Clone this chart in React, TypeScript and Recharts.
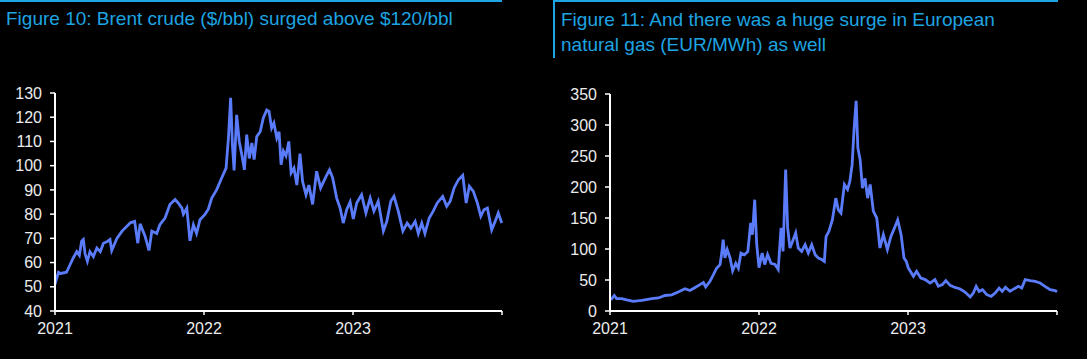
import { LineChart, Line, XAxis, YAxis } from 'recharts';

// x positions are weeks since the start of 2021 (52 per year on the axis)
const yearTicks = [0, 52, 104, 156];
const yearLabels = ['2021', '2022', '2023', ''];

const brentWeeks = [
  0, 1.2, 2, 4, 5.2, 6.4, 7.6, 8.5, 9.3, 9.9, 10.5, 11.3, 12.2, 13.4, 14.6, 15.8, 16.9, 18.4, 19.2, 19.8,
  21.6, 23.4, 25.1, 26.3, 27.8, 28.9, 29.7, 31.4, 32.8, 33.8, 35.5, 36.6, 38.4, 40.1, 41.9, 43, 44.3, 44.8,
  46, 47.1, 48.3, 49.4, 50.6, 52.4, 53.5, 54.7, 56.4, 58.2, 59.7, 60.5, 61.3, 61.9, 62.5, 63.4, 64.3, 65.2,
  66.1, 66.9, 67.8, 68.7, 69.5, 70.4, 71.6, 72.7, 73.9, 74.7, 75.6, 76.4, 77.4, 78.2, 78.9, 79.7, 80.6,
  81.6, 82.4, 83.4, 84.4, 85.5, 86.4, 87.6, 88.6, 89.9, 91.3, 92.7, 94.6, 95.8, 96.9, 98.3, 99.5, 100.6,
  101.8, 103, 104.1, 105.3, 107, 108.5, 110, 111.3, 112.8, 114.6, 115.8, 117.2, 118.3, 119.8, 121.4, 122.9,
  124.2, 125.7, 126.8, 128, 129.1, 130.6, 132, 133.4, 135.3, 136.7, 137.9, 139.3, 140.8, 142.3, 143.5,
  144.6, 146, 147.4, 148.6, 149.7, 150.9, 152.4, 153.6, 154.7, 155.9,
];
const brentValues = [
  51, 56, 55.5, 56, 59, 62, 64.5, 63, 68.8, 69.5, 63.5, 60.5, 64.5, 62.5, 66, 64.5, 68, 68.8, 69.5, 65,
  70, 73, 75, 76.4, 77, 68, 76, 71, 65, 73, 72, 75.6, 78.4, 84, 86, 84.6, 82.5, 80,
  82.5, 69, 75.6, 72, 77.7, 80, 82, 86.6, 90, 95, 99, 111, 128, 109, 98, 121, 110, 104.5,
  98.3, 112.8, 103, 109.4, 102.5, 112, 114, 119.7, 123, 122.4, 115.5, 117.6, 111.4, 114, 100.4, 106, 104,
  110, 97, 99, 92, 105, 93.5, 88, 92, 84, 97.7, 90.8, 95.6, 98.3, 95, 86.6, 82.5, 76.3,
  81.8, 85, 78, 84.6, 88, 80.5, 86.6, 81.2, 85.3, 73, 77, 85.3, 87.3, 81.2, 73, 76.3,
  74.2, 77, 72, 76.3, 72, 78.4, 81.2, 84.6, 87.3, 83.2, 85.3, 90.8, 94.2, 96, 84.6,
  91.5, 89.4, 84.6, 79.1, 81.8, 82.5, 73.5, 77, 80.5, 76.3,
];
const brentTicks = [40, 50, 60, 70, 80, 90, 100, 110, 120, 130];

const gasWeeks = [
  0.3, 1.5, 2.3, 4.1, 5.8, 8.1, 11.1, 14.6, 16.9, 19.2, 21.5, 23.8, 26.2, 27.9, 29.7, 31.4, 32.6, 33.4,
  34.9, 36.1, 37.2, 38.4, 39, 39.5, 40.1, 40.9, 41.9, 42.8, 43.9, 44.8, 45.7, 46.9, 48.1, 49.1, 49.7, 50.5,
  51.2, 52, 53.1, 54, 55, 56.2, 57.6, 58.7, 59.7, 60.4, 61.3, 62, 62.8, 63.7, 64.8, 65.7, 66.9, 68.1, 69.2,
  70.4, 71.6, 72.7, 73.9, 74.8, 75.4, 76.4, 77.6, 78.8, 79.7, 80.6, 81.8, 82.9, 83.7, 84.5, 85.2, 85.9,
  86.5, 87.3, 88.1, 89, 89.9, 90.8, 91.9, 93.1, 94.2, 95.4, 96.8, 98, 99.3, 100.4, 101.6, 102.6, 103.4,
  104.1, 105.9, 107, 108.5, 110, 111.7, 113.4, 114.6, 116, 117.2, 118.7, 120.4, 122.2, 123.9, 125.7, 126.8,
  127.8, 128.8, 130, 131.5, 133, 134.4, 135.8, 136.9, 138, 139.6, 141.1, 142.5, 143.7, 144.9, 146.6, 148.4,
  150.1, 151.8, 153.6, 155.3, 156,
];
const gasValues = [
  18, 25, 20, 20, 18, 15.6, 17, 20, 21, 25, 26, 30.6, 36, 33, 38, 42.5, 46, 39,
  48, 58.6, 69, 74.7, 93.5, 115, 85.5, 99, 85.5, 65, 77, 69, 93.5, 90.8, 96, 142, 123, 179.5,
  108, 70, 93.5, 75, 91, 77, 75, 67, 134, 96, 228, 134, 101.6, 112, 126, 101.6, 96, 107, 93.5,
  107, 90.8, 85.5, 83, 80, 120, 128.5, 147, 182, 163, 158, 204, 196, 209, 236, 295, 339,
  263, 244, 198, 214, 182, 204, 161, 150, 101.6, 123, 99, 120, 134, 147, 123, 85.5, 80,
  69.4, 56, 64, 53, 50.6, 45, 50.6, 40, 42.5, 49, 41.4, 38, 35.5, 30.6, 22.6, 29,
  39.8, 31.7, 34.4, 26.3, 23.6, 29, 37, 31.7, 38.2, 31.7, 36, 39.8, 37, 50.6, 48.9, 47.8,
  45.2, 39.8, 34.4, 33, 31,
];
const gasTicks = [0, 50, 100, 150, 200, 250, 300, 350];

const brentData = brentWeeks.map((week, i) => ({ week, value: brentValues[i] }));
const gasData = gasWeeks.map((week, i) => ({ week, value: gasValues[i] }));

const font = '"Liberation Sans", Arial, sans-serif';
const titleBlue = '#1ea4e2';
const lineBlue = '#5b7cfa';
const tickStyle = { fill: '#ececec', fontSize: 16, fontFamily: font };

interface PanelProps {
  data: { week: number; value: number }[];
  ticks: number[];
  yWidth: number;
  rightMargin: number;
  top: number;
  width: number;
}

const Panel = ({ data, ticks, yWidth, rightMargin, top, width }: PanelProps) => (
  <LineChart width={width} height={359} data={data} margin={{ top, right: rightMargin, bottom: 18, left: 0 }}>
    <XAxis
      type="number"
      dataKey="week"
      domain={[0, 156]}
      ticks={yearTicks}
      interval={0}
      tickFormatter={(v: number) => yearLabels[yearTicks.indexOf(v)] ?? ''}
      axisLine={{ stroke: '#ffffff', strokeWidth: 2 }}
      tickLine={{ stroke: '#ffffff', strokeWidth: 1.5 }}
      tickSize={4}
      tickMargin={8}
      height={30}
      tick={tickStyle}
    />
    <YAxis
      type="number"
      domain={[ticks[0], ticks[ticks.length - 1]]}
      ticks={ticks}
      interval={0}
      width={yWidth}
      axisLine={{ stroke: '#ffffff', strokeWidth: 2 }}
      tickLine={{ stroke: '#ffffff', strokeWidth: 1.5 }}
      tickSize={5}
      tickMargin={8}
      tick={tickStyle}
    />
    <Line
      type="linear"
      dataKey="value"
      stroke={lineBlue}
      strokeWidth={2.8}
      dot={false}
      isAnimationActive={false}
    />
  </LineChart>
);

export default function App() {
  return (
    <div
      style={{
        position: 'absolute',
        left: 0,
        top: 0,
        width: 1087,
        height: 359,
        background: '#000000',
        overflow: 'hidden',
        fontFamily: font,
      }}
    >
      {/* header rules */}
      <div style={{ position: 'absolute', left: 0, top: 0, width: 502, height: 2, background: titleBlue }} />
      <div style={{ position: 'absolute', left: 553, top: 0, width: 505, height: 2, background: titleBlue }} />
      <div style={{ position: 'absolute', left: 553, top: 0, width: 2, height: 58, background: titleBlue }} />

      <div style={{ position: 'absolute', left: 6, top: 7, fontSize: 19, lineHeight: '24px', color: titleBlue, whiteSpace: 'nowrap' }}>
        Figure 10: Brent crude ($/bbl) surged above $120/bbl
      </div>
      <div style={{ position: 'absolute', left: 561, top: 7, width: 520, fontSize: 19, lineHeight: '25px', color: titleBlue }}>
        Figure 11: And there was a huge surge in European
        <br />
        natural gas (EUR/MWh) as well
      </div>

      <div style={{ position: 'absolute', left: 0, top: 0 }}>
        <Panel data={brentData} ticks={brentTicks} yWidth={55} rightMargin={43} top={93} width={545} />
      </div>
      <div style={{ position: 'absolute', left: 545, top: 0 }}>
        <Panel data={gasData} ticks={gasTicks} yWidth={65} rightMargin={30} top={94} width={542} />
      </div>
    </div>
  );
}
